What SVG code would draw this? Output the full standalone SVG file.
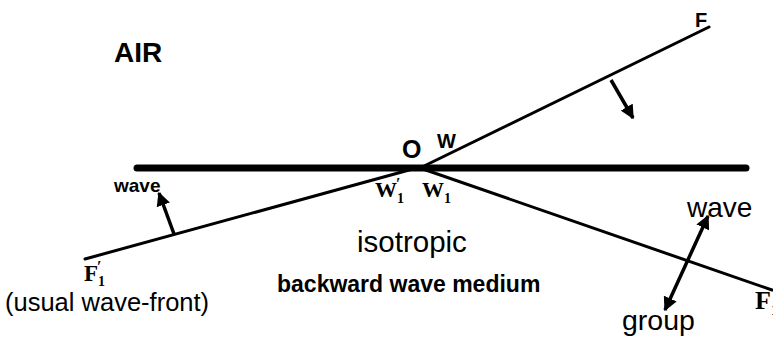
<svg xmlns="http://www.w3.org/2000/svg" width="773" height="338" viewBox="0 0 773 338">
<defs>
<marker id="ah" viewBox="0 0 10 10" refX="9" refY="5" markerWidth="4" markerHeight="4" orient="auto-start-reverse" markerUnits="strokeWidth">
<path d="M0,0 L10,5 L0,10 z" fill="#000"/>
</marker>
<style>
.ln{stroke:#000;stroke-width:3;fill:none;stroke-linecap:round}
.ar{stroke:#000;stroke-width:3.5;fill:none}
.sans{font-family:"Liberation Sans",Arial,sans-serif;fill:#000}
.b{font-weight:bold}
.serif{font-family:"Liberation Serif","Times New Roman",serif;font-weight:bold;fill:#000}
</style>
</defs>
<rect width="773" height="338" fill="#fff"/>
<g id="connectors">
<line x1="137" y1="168" x2="746" y2="168" stroke="#000" stroke-width="7" stroke-linecap="round"/>
<line class="ln" x1="420" y1="168" x2="709" y2="27"/>
<line class="ln" x1="420" y1="168" x2="772" y2="290"/>
<line class="ln" x1="85" y1="259" x2="420" y2="167"/>
<line class="ar" x1="611" y1="80" x2="633" y2="118" marker-end="url(#ah)"/>
<line class="ar" x1="174" y1="234" x2="159" y2="193" marker-end="url(#ah)"/>
<line class="ar" x1="665" y1="310" x2="708" y2="216" marker-start="url(#ah)" marker-end="url(#ah)"/>
</g>
<g id="air"><text class="sans b" x="114" y="62" font-size="28">AIR</text></g>
<g id="O"><text class="sans b" x="402" y="158" font-size="25">O</text></g>
<g id="W"><text class="sans b" x="437" y="148" font-size="20">W</text></g>
<g id="F"><text class="sans b" x="695" y="27" font-size="20">F</text></g>
<g id="wave-left"><text class="sans b" x="114" y="192" font-size="19">wave</text></g>
<g id="F1p"><text class="serif" x="84" y="281" font-size="23">F<tspan font-size="14" dy="5">1</tspan><tspan dx="-8" dy="-14" font-size="16">′</tspan></text></g>
<g id="usual"><text class="sans" x="5" y="311" font-size="25.5">(usual wave-front)</text></g>
<g id="W1p"><text class="serif" x="375" y="197" font-size="22">W<tspan font-size="14" dy="6">1</tspan><tspan dx="-8" dy="-14" font-size="16">′</tspan></text></g>
<g id="W1"><text class="serif" x="422" y="197" font-size="22">W<tspan font-size="14" dy="6">1</tspan></text></g>
<g id="isotropic"><text class="sans" x="357" y="252" font-size="29.5">isotropic</text></g>
<g id="bwm"><text class="sans b" x="277" y="292" font-size="23">backward wave medium</text></g>
<g id="wave-right"><text class="sans" x="687" y="217" font-size="28">wave</text></g>
<g id="group"><text class="sans" x="622" y="330" font-size="28.5">group</text></g>
<g id="F1"><text class="serif" x="755" y="309" font-size="26">F<tspan font-size="15" dy="6">1</tspan></text></g>
</svg>
